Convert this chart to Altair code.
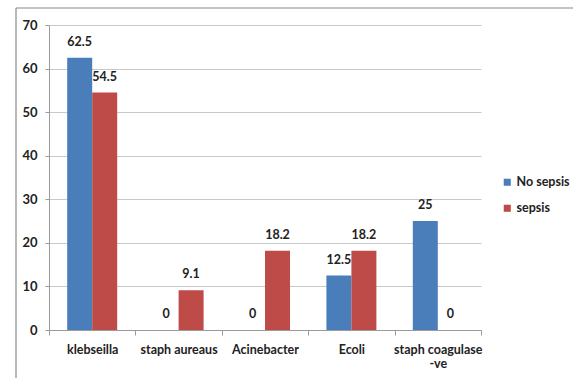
import altair as alt
import pandas as pd

# Organism isolates by outcome group (%)
organisms = ["klebseilla", "staph aureaus", "Acinebacter", "Ecoli", "staph coagulase -ve"]
groups = ["No sepsis", "sepsis"]
no_sepsis = [62.5, 0, 0, 12.5, 25]
sepsis = [54.5, 9.1, 18.2, 18.2, 0]
colors = ["#4a7ebb", "#be4b48"]

rows = []
for org, a, b in zip(organisms, no_sepsis, sepsis):
    rows.append({"organism": org, "group": groups[0], "value": a, "label": f"{a:g}"})
    rows.append({"organism": org, "group": groups[1], "value": b, "label": f"{b:g}"})
df = pd.DataFrame(rows)

FONT = "Lato"
FS = 12.5

x_enc = alt.X(
    "organism:N",
    sort=organisms,
    title=None,
    scale=alt.Scale(paddingInner=0, paddingOuter=0),
    axis=alt.Axis(
        labelAngle=0,
        tickBand="extent",
        grid=False,
        domainColor="#9a9a9a",
        tickColor="#9a9a9a",
        tickSize=5,
        labelPadding=8,
        labelExpr="datum.value == 'staph coagulase -ve' ? ['staph coagulase', '-ve'] : datum.label",
    ),
)
xoff_enc = alt.XOffset(
    "group:N", sort=groups, scale=alt.Scale(paddingInner=0, paddingOuter=0.728)
)
y_enc = alt.Y(
    "value:Q",
    title=None,
    scale=alt.Scale(domain=[0, 70], nice=False),
    axis=alt.Axis(
        values=[0, 10, 20, 30, 40, 50, 60, 70],
        grid=True,
        gridColor="#c8c8c8",
        domainColor="#9a9a9a",
        tickColor="#9a9a9a",
        tickSize=4,
        labelPadding=8,
        labelFontSize=13,
    ),
)

bars = alt.Chart(df).mark_bar().encode(
    x=x_enc,
    xOffset=xoff_enc,
    y=y_enc,
    color=alt.Color(
        "group:N",
        sort=groups,
        scale=alt.Scale(domain=groups, range=colors),
        legend=alt.Legend(
            title=None,
            orient="none",
            legendX=452,
            legendY=151,
            symbolType="square",
            symbolSize=50,
            symbolStrokeWidth=0,
            labelFont=FONT,
            labelFontSize=FS,
            labelFontWeight="bold",
            labelColor="#222222",
            rowPadding=13,
            labelOffset=3,
        ),
    ),
)

labels = alt.Chart(df).mark_text(
    baseline="bottom", dy=-9, font=FONT, fontSize=FS, fontWeight="bold", color="#222222"
).encode(
    x=alt.X("organism:N", sort=organisms),
    xOffset=alt.XOffset("group:N", sort=groups),
    y="value:Q",
    text="label:N",
)

# Outer frame lines around the figure
frame = alt.Data(values=[{}])
frame_top = alt.Chart(frame).mark_rule(color="#8a8a8a", strokeWidth=1.2).encode(
    x=alt.value(-33), x2=alt.value(525), y=alt.value(-17)
)
frame_left = alt.Chart(frame).mark_rule(color="#8a8a8a", strokeWidth=1.2).encode(
    x=alt.value(-33), y=alt.value(-17), y2=alt.value(360)
)

chart = (
    alt.layer(bars, labels, frame_top, frame_left)
    .properties(
        width=432,
        height=305,
        autosize=alt.AutoSizeParams(type="none"),
        padding={"left": 49, "top": 25, "right": 92, "bottom": 48},
        background="white",
    )
    .configure_view(stroke=None)
    .configure_axis(
        labelFont=FONT,
        labelFontSize=FS,
        labelFontWeight="bold",
        labelColor="#222222",
    )
)

chart.save("out.html", embed_options={"renderer": "svg", "actions": False})
